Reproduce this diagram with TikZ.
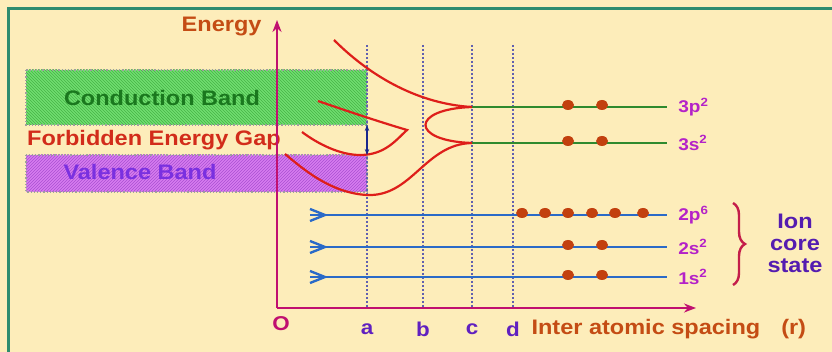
\documentclass[tikz,border=0pt]{standalone}
\usepackage{fontspec}
\setmainfont{Liberation Sans}[FakeStretch=1.12]
\usetikzlibrary{arrows.meta,patterns,decorations.pathreplacing,shapes.geometric}
\definecolor{paper}{RGB}{253,237,186}
\definecolor{framegreen}{RGB}{46,140,110}
\definecolor{axiscol}{RGB}{192,16,112}
\definecolor{energybrown}{RGB}{196,76,20}
\definecolor{gapred}{RGB}{210,44,26}
\definecolor{condfill}{RGB}{112,222,112}
\definecolor{condhatch}{RGB}{70,180,70}
\definecolor{condtext}{RGB}{26,120,30}
\definecolor{valfill}{RGB}{214,124,240}
\definecolor{valhatch}{RGB}{170,80,210}
\definecolor{valtext}{RGB}{122,48,224}
\definecolor{curvered}{RGB}{222,30,26}
\definecolor{levelgreen}{RGB}{46,138,46}
\definecolor{levelblue}{RGB}{42,106,200}
\definecolor{dotred}{RGB}{194,64,14}
\definecolor{lvlpurple}{RGB}{180,34,200}
\definecolor{markpurple}{RGB}{96,32,192}
\definecolor{corepurple}{RGB}{84,28,176}
\definecolor{gridblue}{RGB}{96,96,176}
\definecolor{gapblue}{RGB}{26,40,140}
\definecolor{bracered}{RGB}{196,30,74}

\begin{document}
\begin{tikzpicture}[
      x=1pt, y=-1pt, >=Stealth, font=\bfseries,
      big/.style={font=\fontsize{21}{24}\selectfont\bfseries},
      lvl/.style={font=\fontsize{17}{19}\selectfont\bfseries, text=lvlpurple,
                  anchor=west, inner sep=0pt},
      spacinglab/.style={font=\fontsize{20}{22}\selectfont\bfseries, text=markpurple},
      bandbox/.style={draw=gray!75, dotted, line width=1.2pt},
      spacing/.style={draw=gridblue, dotted, line width=2pt},
      axis/.style={draw=axiscol, line width=2pt},
      orbit/.style={draw=curvered, line width=2.2pt},
      level/.style={line width=2.6pt},
      dot/.style={ellipse, fill=dotred, inner sep=0pt, minimum width=12pt,
                  minimum height=10pt},
    ]
    \useasboundingbox[fill=paper] (0,0) rectangle (832,352);
    \draw[framegreen, line width=3pt] (8,352) -- (8,9) -- (832,9);

    % bands
    \fill[condfill] (26,70) rectangle (367,125);
    \fill[pattern=north west lines, pattern color=condhatch] (26,70) rectangle (367,125);
    \draw[bandbox] (26,70) rectangle (367,125);
    \fill[valfill] (26,155) rectangle (367,192);
    \fill[pattern=north east lines, pattern color=valhatch] (26,155) rectangle (367,192);
    \draw[bandbox] (26,155) rectangle (367,192);

    \node[big, text=condtext] (cond) at (162,98) {Conduction Band};
    \node[big, text=gapred, anchor=west, inner sep=0pt] (gap) at (27,140) {Forbidden Energy Gap};
    \node[big, text=valtext] (val) at (140,172) {Valence Band};

    % spacing markers
    \foreach \x/\n in {367/a, 423/b, 472/c, 513/d} {
      \coordinate (top-\n) at (\x,45);
      \coordinate (bot-\n) at (\x,308);
      \draw[spacing] (top-\n) -- (bot-\n);
      \node[spacinglab] (lab-\n) at (\x,329) {\n};
    }

    % axes
    \coordinate (O) at (277,308);
    \coordinate (ytip) at (277,20);
    \coordinate (xtip) at (696,308);
    \draw[axis, ->] (O) -- (ytip);
    \draw[axis, ->] (O) -- (xtip);
    \node[big, text=energybrown, anchor=east] (energy) at (265,27) {Energy};
    \node[font=\fontsize{20}{22}\selectfont\bfseries, text=axiscol] (origin) at (281,324) {O};
    \node[big, text=energybrown, anchor=west] (xlabel) at (528,329) {Inter atomic spacing\quad(r)};

    % valence levels (3s, 3p)
    \coordinate (p3) at (472,107);
    \coordinate (s3) at (472,143);
    \draw[level, levelgreen] (p3) -- (667,107) node[lvl, right=10pt] (p3lab) {3p\textsuperscript{2}};
    \draw[level, levelgreen] (s3) -- (667,143) node[lvl, right=10pt] (s3lab) {3s\textsuperscript{2}};

    % splitting curves
    \draw[orbit] (334,40) .. controls (372,78) and (420,104) .. (p3);
    \draw[orbit] (p3) .. controls (410,109) and (410,141) .. (s3);
    \draw[orbit] (s3) .. controls (425,144) and (412,197) .. (367,195)
                      .. controls (330,193) and (302,168) .. (285,154);
    \draw[orbit] (318,101) .. controls (350,112) and (380,122) .. (407,130)
                 .. controls (396,140) and (385,155) .. (360,155)
                 .. controls (340,155) and (318,144) .. (302,132);
    \coordinate (gtop) at (367,125);
    \coordinate (gbot) at (367,155);
    \draw[gapblue, line width=2.4pt, {Stealth[length=6pt]}-{Stealth[length=6pt]}] (gtop) -- (gbot);

    % core levels
    \foreach \y/\n/\t in {215/p2/2p\textsuperscript{6}, 247/s2/2s\textsuperscript{2}, 277/s1/1s\textsuperscript{2}} {
      \coordinate (\n) at (310,\y);
      \draw[levelblue, line width=2.4pt] (310,\y-6) -- (325,\y) -- (310,\y+6);
      \draw[level, levelblue] (\n) -- (667,\y) node[lvl, right=10pt] (\n lab) {\t};
    }
    \foreach \x [count=\i] in {522,545,568,592,615,643}
      \node[dot] (e2p-\i) at (\x,213) {};
    \foreach \x [count=\i] in {568,602} {
      \node[dot] (e3p-\i) at (\x,105) {};
      \node[dot] (e3s-\i) at (\x,141) {};
      \node[dot] (e2s-\i) at (\x,245) {};
      \node[dot] (e1s-\i) at (\x,275) {};
    }

    % ion core
    \draw[bracered, line width=2.4pt, decorate, decoration={brace, amplitude=12pt}]
      (733,203) -- (733,285);
    \node[big, text=corepurple, align=center, font=\fontsize{21}{22}\selectfont\bfseries]
      (core) at (795,243) {Ion\\core\\state};
  \end{tikzpicture}
\end{document}
